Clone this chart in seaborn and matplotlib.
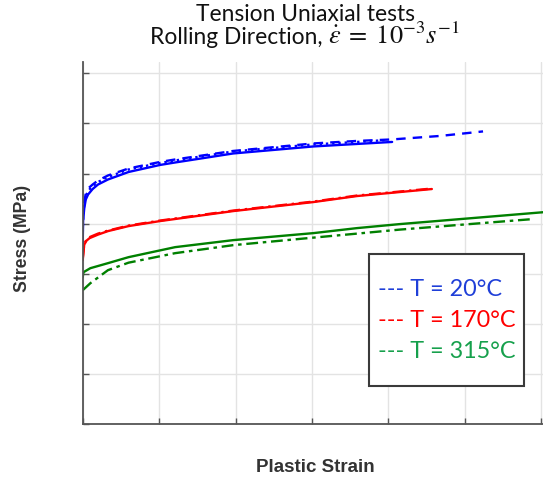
import numpy as np
import pandas as pd
import matplotlib
matplotlib.use("Agg")
import matplotlib.pyplot as plt
from matplotlib.lines import Line2D
from matplotlib.patches import Rectangle
import seaborn as sns

# ---- data (arbitrary units) ----
blue_solid_strain = [0.0, 0.005, 0.02, 0.04, 0.07, 0.13, 0.2, 0.33, 0.6, 1.01, 1.21, 1.97, 3.02, 3.59, 4.05]
blue_solid_stress = [3.61, 4.05, 4.30, 4.48, 4.58, 4.69, 4.78, 4.88, 5.03, 5.17, 5.22, 5.40, 5.54, 5.59, 5.63]

blue_dot_strain = [0.0, 0.005, 0.02, 0.04, 0.07, 0.13, 0.2, 0.33, 0.6, 1.01, 1.21, 1.97, 3.02, 3.59, 4.0]
blue_dot_stress = [3.70, 4.15, 4.38, 4.55, 4.65, 4.75, 4.83, 4.93, 5.08, 5.21, 5.26, 5.44, 5.58, 5.63, 5.67]

blue_dash_strain = [0.0, 0.005, 0.02, 0.04, 0.07, 0.13, 0.2, 0.33, 0.6, 1.01, 1.21, 1.97, 3.02, 3.59, 4.05, 4.68, 5.24]
blue_dash_stress = [3.75, 4.20, 4.42, 4.60, 4.70, 4.78, 4.86, 4.96, 5.10, 5.23, 5.28, 5.45, 5.60, 5.65, 5.68, 5.75, 5.84]

red_strain = [0.0, 0.02, 0.05, 0.09, 0.2, 0.33, 0.6, 1.01, 1.97, 3.02, 3.59, 4.57]
red_solid_stress = [3.27, 3.58, 3.66, 3.71, 3.78, 3.85, 3.95, 4.05, 4.25, 4.43, 4.55, 4.69]
red_dash_stress = [3.30, 3.60, 3.68, 3.73, 3.80, 3.86, 3.96, 4.06, 4.26, 4.44, 4.56, 4.70]

green_solid_strain = [0.0, 0.01, 0.1, 0.33, 0.6, 1.21, 1.97, 3.02, 3.59, 4.15, 6.05]
green_solid_stress = [2.93, 3.03, 3.11, 3.21, 3.33, 3.53, 3.67, 3.81, 3.91, 3.99, 4.23]

green_dash_strain = [0.0, 0.1, 0.33, 0.6, 1.21, 1.97, 3.02, 3.59, 4.15, 5.89]
green_dash_stress = [2.67, 2.81, 3.07, 3.22, 3.41, 3.57, 3.72, 3.80, 3.88, 4.09]

legend_labels = ["--- T = 20°C", "--- T = 170°C", "--- T = 315°C"]
legend_colors = ["#1f3fd8", "#ff0000", "#16a04c"]

title_line1 = "Tension Uniaxial tests"
title_line2_text = "Rolling Direction, "
title_line2_math = "$\\dot{\\varepsilon}\\;=\\;10^{-3}s^{-1}$"
xlabel_text = "Plastic Strain"
ylabel_text = "Stress (MPa)"

# ---- style ----
sns.set_theme(style="white")
plt.rcParams["font.family"] = ["Lato", "DejaVu Sans"]
plt.rcParams["mathtext.fontset"] = "stix"

W, H = 543, 484
fig = plt.figure(figsize=(W / 100, H / 100), dpi=100)
ax_left, ax_bottom, ax_top, ax_right = 82.7, 424.0, 62.0, 543.0
ax = fig.add_axes([ax_left / W, 1 - ax_bottom / H, (ax_right - ax_left) / W, (ax_bottom - ax_top) / H])

BLUE, RED, GREEN = "#0000ff", "#ff0000", "#008000"
lw = 1.7

def draw(x, y, color, ls):
    sns.lineplot(x=x, y=y, color=color, linestyle=ls, linewidth=lw, ax=ax,
                 estimator=None, sort=False, legend=False)

draw(blue_solid_strain, blue_solid_stress, BLUE, "-")
draw(blue_dot_strain, blue_dot_stress, BLUE, ":")
draw(blue_dash_strain, blue_dash_stress, BLUE, (0, (4, 3)))
draw(red_strain, red_solid_stress, RED, "-")
draw(red_strain, red_dash_stress, RED, (0, (5, 2, 1, 2)))
draw(green_solid_strain, green_solid_stress, GREEN, "-")
draw(green_dash_strain, green_dash_stress, GREEN, (0, (5, 2, 1.5, 2)))

px_x = 76.4
px_y = 50.1
ax.set_xlim(0, (ax_right - ax_left) / px_x)
ax.set_ylim(0, (ax_bottom - ax_top) / px_y)
ax.set_xticks(np.arange(0, 7))
ax.set_yticks(np.arange(0, 8))
ax.set_xticklabels([])
ax.set_yticklabels([])
ax.grid(True, color="#e3e3e3", linewidth=1.0)
ax.set_axisbelow(True)
for s in ["top", "right"]:
    ax.spines[s].set_visible(False)
for s in ["left", "bottom"]:
    ax.spines[s].set_color("#555555")
    ax.spines[s].set_linewidth(1.3)
ax.tick_params(axis="both", direction="in", length=4, width=1.0, color="#555555",
               left=True, bottom=True)

# legend box
bx0 = (369 - ax_left) / (ax_right - ax_left)
bx1 = (524 - ax_left) / (ax_right - ax_left)
by0 = (ax_bottom - 386) / (ax_bottom - ax_top)
by1 = (ax_bottom - 254) / (ax_bottom - ax_top)
ax.add_patch(Rectangle((bx0, by0), bx1 - bx0, by1 - by0, transform=ax.transAxes,
                       facecolor="white", edgecolor="#3a3a3a", linewidth=1.5, zorder=5))
handles = [Line2D([], [], linestyle="none") for _ in legend_labels]
leg = ax.legend(handles, legend_labels, loc="upper left",
                bbox_to_anchor=((378 - ax_left) / (ax_right - ax_left), (ax_bottom - 279) / (ax_bottom - ax_top)),
                frameon=False, handlelength=0, handletextpad=0, borderpad=0, borderaxespad=0,
                labelspacing=0.43, fontsize=16.8, labelcolor=legend_colors)
leg.set_zorder(6)

# title
title_cx = 305
fig.text(title_cx / W, 1 - 21 / H, title_line1, ha="center", va="baseline", fontsize=16.4,
         color="#111111")
t2a = fig.text(0, 1 - 44 / H, title_line2_text, ha="left", va="baseline", fontsize=16.4,
               color="#111111")
t2b = fig.text(0, 1 - 44 / H, title_line2_math, ha="left", va="baseline", fontsize=19,
               color="#111111")
fig.canvas.draw()
r = fig.canvas.get_renderer()
wa = t2a.get_window_extent(r).width
wb = t2b.get_window_extent(r).width
start = title_cx - (wa + wb) / 2
t2a.set_x(start / W)
t2b.set_x((start + wa) / W)

fig.text(315 / W, 1 - 468 / H, xlabel_text, ha="center", va="center", fontsize=13.5,
         fontweight="bold", family=["Liberation Sans", "DejaVu Sans"], color="#333333")
fig.text(23 / W, 1 - 238 / H, ylabel_text, ha="center", va="center", rotation=90,
         fontsize=12.7, fontweight="bold", family=["Liberation Sans", "DejaVu Sans"], color="#333333")

fig.savefig("out.png", dpi=100)
